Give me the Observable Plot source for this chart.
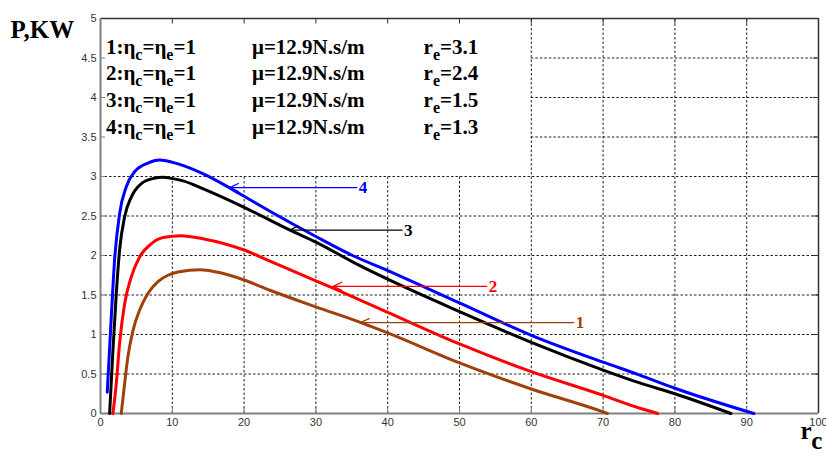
<!DOCTYPE html>
<html>
<head>
<meta charset="utf-8">
<script src="https://cdn.jsdelivr.net/npm/d3@7"></script>
<script src="https://cdn.jsdelivr.net/npm/@observablehq/plot@0.6"></script>
<style>
  html, body { margin: 0; padding: 0; background: #fff; }
</style>
</head>
<body>
<div id="chart"></div>
<script>
// ---- data ----
const xTicks = [0, 10, 20, 30, 40, 50, 60, 70, 80, 90, 100];
const yTicks = [0, 0.5, 1, 1.5, 2, 2.5, 3, 3.5, 4, 4.5, 5];

const curve1 = [[2.89,0],[3.36,0.38],[3.82,0.72],[4.52,1.05],[5.45,1.31],[6.6,1.52],[8.0,1.67],[9.4,1.75],[10.8,1.79],[13.9,1.82],[16.2,1.79],[20,1.69],[23.6,1.56],[30,1.35],[36,1.16],[40,1.02],[50,0.64],[60,0.31],[70,0.02],[70.6,0]];
const curve2 = [[1.73,0],[2.2,0.38],[2.66,0.89],[3.36,1.39],[4.29,1.73],[5.45,1.98],[7.1,2.15],[8.9,2.23],[11.2,2.25],[14.4,2.21],[20,2.07],[23.6,1.93],[30,1.68],[32.8,1.57],[40,1.28],[50,0.88],[60,0.53],[70,0.23],[75,0.07],[77.6,0]];
const curve3 = [[1.27,0],[1.73,0.80],[2.2,1.52],[2.66,2.07],[3.36,2.49],[4.29,2.74],[5.68,2.91],[7.3,2.975],[8.7,2.99],[10.2,2.97],[11.5,2.945],[14.4,2.84],[20,2.61],[26.4,2.32],[30,2.17],[35.1,1.92],[40,1.70],[50,1.29],[60,0.90],[70,0.55],[75,0.39],[80,0.25],[87.8,0]];
const curve4 = [[0.94,0.27],[1.5,1.22],[1.96,1.94],[2.66,2.53],[3.59,2.87],[4.75,3.06],[6.6,3.17],[8.2,3.21],[10.8,3.16],[14.4,3.03],[18.1,2.85],[20,2.75],[23.6,2.56],[30,2.24],[35.1,2.0],[40,1.81],[50,1.40],[60,0.99],[70,0.65],[75,0.49],[80,0.32],[91,0]];

const seriesIds = ["1", "2", "3", "4"];
const seriesColors = ["#a0400a", "#ff0000", "#000000", "#0000ff"];
const reValues = ["3.1", "2.4", "1.5", "1.3"];
const muText = "μ=12.9N.s/m";

// arrow annotations: tail x, tip x, level y
const arrowTail = [65.9, 53.8, 42.0, 35.7];
const arrowTip  = [36.2, 32.4, 26.3, 18.0];
const arrowY    = [1.15, 1.61, 2.32, 2.86];

// ---- build ----
const curves = [curve1, curve2, curve3, curve4];
const lines = curves.flatMap((c, i) => c.map(([x, y]) => ({x, y, s: seriesIds[i]})));
const arrows = seriesIds.map((s, i) => ({s, x1: arrowTail[i], x2: arrowTip[i], y: arrowY[i]}));
const colorOf = s => seriesColors[seriesIds.indexOf(s)];

const legendRows = seriesIds.map((s, i) => ({
  s,
  a: `${s}:η_c=η_e=1`,
  b: muText,
  c: `r_e=${reValues[i]}`
}));
// legend layout (data units)
const legendY = i => 4.64 - i * 0.338;
const serif = "'Liberation Serif', 'Times New Roman', Times, serif";

const boxBottom = 3, boxRight = 60;

const chart = Plot.plot({
  width: 826,
  height: 457,
  marginLeft: 100,
  marginRight: 8,
  marginTop: 18,
  marginBottom: 44,
  style: {fontFamily: "'Liberation Sans', Arial, sans-serif", fontSize: "11px", color: "#333", background: "#fff", overflow: "visible"},
  x: {domain: [0, 100], ticks: xTicks, tickSize: 0, tickPadding: 5, label: null, tickFormat: d => String(d)},
  y: {domain: [0, 5], ticks: yTicks, tickSize: 0, tickPadding: 4, label: null, tickFormat: d => String(d)},
  marks: [
    // grid (left-top area is occupied by the legend box)
    Plot.ruleX(xTicks.filter(d => d > 0 && d < 100), {
      x: d => d, y1: 0, y2: d => d < boxRight ? boxBottom : 5,
      stroke: "#222", strokeWidth: 1, strokeDasharray: "2.5,2"
    }),
    Plot.ruleY(yTicks.filter(d => d > 0 && d < 5), {
      y: d => d, x1: d => d > boxBottom ? boxRight : 0, x2: 100,
      stroke: "#222", strokeWidth: 1, strokeDasharray: "2.5,2"
    }),
    // ticks
    Plot.ruleY(yTicks, {y: d => d, x1: 0, x2: 0.7, stroke: "#808080", strokeWidth: 1}),
    Plot.ruleY(yTicks, {y: d => d, x1: 99.3, x2: 100, stroke: "#333", strokeWidth: 1}),
    Plot.ruleX(xTicks, {x: d => d, y1: 5, y2: 4.93, stroke: "#333", strokeWidth: 1}),
    Plot.ruleX(xTicks, {x: d => d, y1: 0, y2: 0.07, stroke: "#808080", strokeWidth: 1}),
    // frame
    Plot.ruleY([5], {stroke: "#333", strokeWidth: 1.5}),
    Plot.ruleX([100], {stroke: "#333", strokeWidth: 1.5}),
    Plot.ruleX([0], {stroke: "#808080", strokeWidth: 2}),
    Plot.ruleY([0], {stroke: "#808080", strokeWidth: 2}),
    // curves
    ...seriesIds.map((s, i) => Plot.line(lines.filter(d => d.s === s), {
      x: "x", y: "y", stroke: seriesColors[i], strokeWidth: 3, curve: "monotone-x"
    })),
    // arrows
    ...arrows.map(a => Plot.arrow([a], {
      x1: "x1", x2: "x2", y1: "y", y2: "y", stroke: colorOf(a.s),
      strokeWidth: 1.3, headLength: 11, headAngle: 50
    })),
    Plot.text(arrows, {
      x: "x1", y: "y", text: "s", fill: d => colorOf(d.s), textAnchor: "start", dx: 2,
      fontFamily: serif, fontWeight: "bold", fontSize: 17
    }),
    // legend text
    Plot.text(legendRows, {x: 0.75, y: (d, i) => legendY(i), text: "a", textAnchor: "start",
      fontFamily: serif, fontWeight: "bold", fontSize: 21, fill: "#000"}),
    Plot.text(legendRows, {x: 21.1, y: (d, i) => legendY(i), text: "b", textAnchor: "start",
      fontFamily: serif, fontWeight: "bold", fontSize: 21, fill: "#000"}),
    Plot.text(legendRows, {x: 45.0, y: (d, i) => legendY(i), text: "c", textAnchor: "start",
      fontFamily: serif, fontWeight: "bold", fontSize: 21, fill: "#000"}),
    // axis titles
    Plot.text(["P,KW"], {frameAnchor: "top-left", text: d => d, textAnchor: "start", dx: -90, dy: 2,
      fontFamily: serif, fontWeight: "bold", fontSize: 25, fill: "#000"}),
    Plot.text(["r_c"], {frameAnchor: "bottom-right", text: d => d, textAnchor: "start", dx: -18, dy: 25,
      fontFamily: serif, fontWeight: "bold", fontSize: 25, fill: "#000"})
  ]
});

// subscripts: "_x" -> lowered, smaller character
d3.select(chart).selectAll("text").each(function () {
  const t = this.textContent;
  if (!t || !t.includes("_")) return;
  const big = t === "r_c";
  const subSize = big ? 25 : 16;
  const subDy = big ? 10 : 6;
  const parts = t.split(/_(.)/);
  const sel = d3.select(this);
  sel.text(null);
  let lowered = false;
  parts.forEach((p, i) => {
    if (!p) return;
    const ts = sel.append("tspan").text(p);
    if (i % 2 === 1) {
      ts.attr("dy", subDy).attr("font-size", subSize);
      lowered = true;
    } else if (lowered) {
      ts.attr("dy", -subDy);
      lowered = false;
    }
  });
});

document.getElementById("chart").appendChild(chart);
</script>
</body>
</html>
